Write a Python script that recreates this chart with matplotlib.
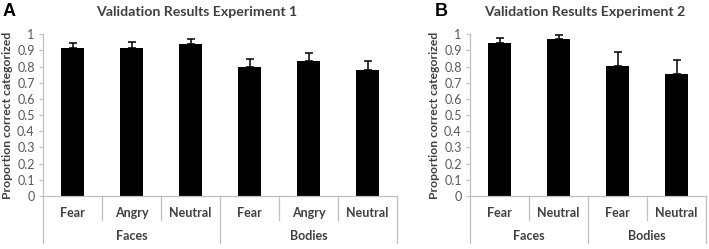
import numpy as np
import matplotlib
matplotlib.use('Agg')
import matplotlib.pyplot as plt

plt.rcParams['font.family'] = ['Lato', 'DejaVu Sans']

# Experiment 1
cats_a   = ['Fear', 'Angry', 'Neutral', 'Fear', 'Angry', 'Neutral']
groups_a = ['Faces', 'Bodies']
mean_a   = [0.918, 0.918, 0.940, 0.798, 0.833, 0.782]
err_a    = [0.031, 0.037, 0.033, 0.048, 0.050, 0.053]

# Experiment 2
cats_b   = ['Fear', 'Neutral', 'Fear', 'Neutral']
groups_b = ['Faces', 'Bodies']
mean_b   = [0.947, 0.973, 0.806, 0.752]
err_b    = [0.028, 0.024, 0.084, 0.089]

W, H = 709, 249
GRID = '#bfbfbf'
TXT = '#404040'


def panel(rect, cats, groups, means, errs, title, title_x):
    l, r, top, base = rect
    ax = fig.add_axes([l / W, (H - base) / H, (r - l) / W, (base - top) / H])
    n = len(cats)
    x = np.arange(n)
    ax.bar(x, means, width=0.38, color='black', zorder=2)
    ax.errorbar(x, means, yerr=[np.zeros(n), errs], fmt='none', ecolor='black',
                elinewidth=1.1, capsize=2.6, capthick=1.1, zorder=3)
    ax.set_xlim(-0.5, n - 0.5)
    ax.set_ylim(0, 1)
    ax.set_yticks(np.arange(0, 1.01, 0.1))
    ax.set_yticklabels(['0'] + [f'{v:.1f}' for v in np.arange(0.1, 0.95, 0.1)] + ['1'])
    ax.tick_params(axis='y', length=3, width=0.8, color=GRID, labelsize=9,
                   labelcolor='#595959', pad=3)
    ax.set_xticks([])
    for s in ['top', 'right']:
        ax.spines[s].set_visible(False)
    for s in ['left', 'bottom']:
        ax.spines[s].set_color(GRID)
        ax.spines[s].set_linewidth(0.9)
    ax.set_ylabel('Proportion correct categorized', fontsize=8.7, fontweight='bold',
                  color=TXT, labelpad=3)
    fig.text(title_x / W, 1 - 12 / H, title, fontsize=10.2, fontweight='bold',
             color=TXT, ha='center', va='center')

    unit = base - top
    short = -24 / unit
    long_ = -47 / unit
    tr = ax.get_xaxis_transform()
    half = n // 2
    for k in range(n + 1):
        edge = k - 0.5
        ylo = long_ if k in (0, half, n) else short
        ax.plot([edge, edge], [0, ylo], color=GRID, lw=0.9, transform=tr, clip_on=False)
    for i, c in enumerate(cats):
        ax.text(i, -16.5 / unit, c, transform=tr, ha='center', va='center',
                fontsize=9, fontweight='bold', color=TXT)
    for g, name in enumerate(groups):
        ax.text(g * half + (half - 1) / 2, -40 / unit, name, transform=tr,
                ha='center', va='center', fontsize=9, fontweight='bold', color=TXT)
    return ax


fig = plt.figure(figsize=(W / 100, H / 100), dpi=100)
panel((43, 397, 34.3, 196), cats_a, groups_a, mean_a, err_a,
      'Validation Results Experiment 1', 197)
panel((470, 706, 34.3, 196), cats_b, groups_b, mean_b, err_b,
      'Validation Results Experiment 2', 585)
fig.text(3 / W, 1 - 11 / H, 'A', fontsize=13, fontweight='bold', ha='left', va='center',
         family=['Liberation Sans', 'DejaVu Sans'])
fig.text(435 / W, 1 - 11 / H, 'B', fontsize=13, fontweight='bold', ha='left', va='center',
         family=['Liberation Sans', 'DejaVu Sans'])

fig.savefig('out.png', dpi=100)
